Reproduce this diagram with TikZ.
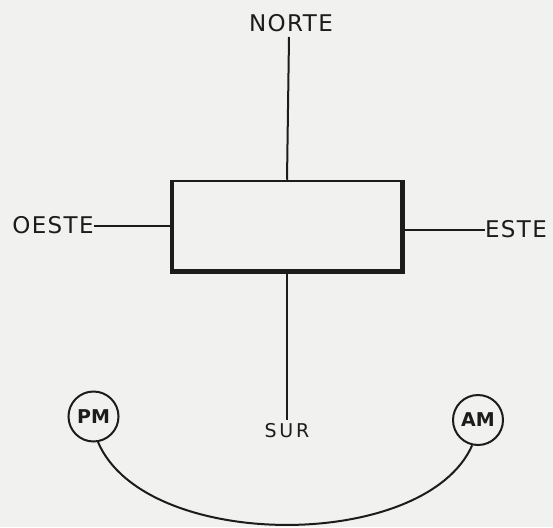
\documentclass[tikz,border=0pt]{standalone}
\usepackage{fontspec}
\setmainfont{DejaVu Sans}
\newfontfamily\labelfont[LetterSpace=6]{DejaVu Sans}
\newfontfamily\surfont[LetterSpace=15]{DejaVu Sans}
\definecolor{paper}{RGB}{241,241,239}
\definecolor{ink}{RGB}{28,28,28}
\begin{document}
\begin{tikzpicture}[x=1pt,y=-1pt,
  lbl/.style={inner sep=0pt, font=\labelfont\fontsize{23}{23}\selectfont, text=ink},
  sunlbl/.style={circle, draw=ink, line width=2pt, minimum size=50pt, inner sep=0pt,
     font=\bfseries\fontsize{19}{19}\selectfont, text=ink},
  axis/.style={draw=ink, line width=2pt},
  thin/.style={draw=ink, line width=2.5pt},
  thick/.style={draw=ink, line width=4.5pt, line join=miter}]
\fill[paper] (0,0) rectangle (553,527);
\useasboundingbox (0,0) rectangle (553,527);
% house
\node[thin, minimum width=228pt, minimum height=89pt, inner sep=0pt] (box) at (287,225.5) {};
\draw[thick] (box.north west) -- (box.south west) -- (box.south east) -- (box.north east);
% labels
\node[lbl] (norte) at (291,23.5) {NORTE};
\node[lbl] (oeste) at (53,225.5) {OESTE};
\node[lbl] (este) at (516,229.5) {ESTE};
\node[lbl, font=\surfont\fontsize{19}{19}\selectfont] (sur) at (287,431) {SUR};
\coordinate (ntop) at (289,37);
\coordinate (sbot) at (287,420);
% axes
\draw[axis] (box.north) -- (ntop);
\draw[axis] (box.south) -- (sbot);
\draw[axis] (box.west) -- (oeste.east);
\draw[axis] (box.east |- este.west) -- (este.west);
% sun positions
\node[sunlbl] (pm) at (93.5,416.5) {PM};
\node[sunlbl] (am) at (478,420) {AM};
\draw[axis] (pm.-80) .. controls (145,552) and (425,552) .. (am.-103);
\end{tikzpicture}
\end{document}
